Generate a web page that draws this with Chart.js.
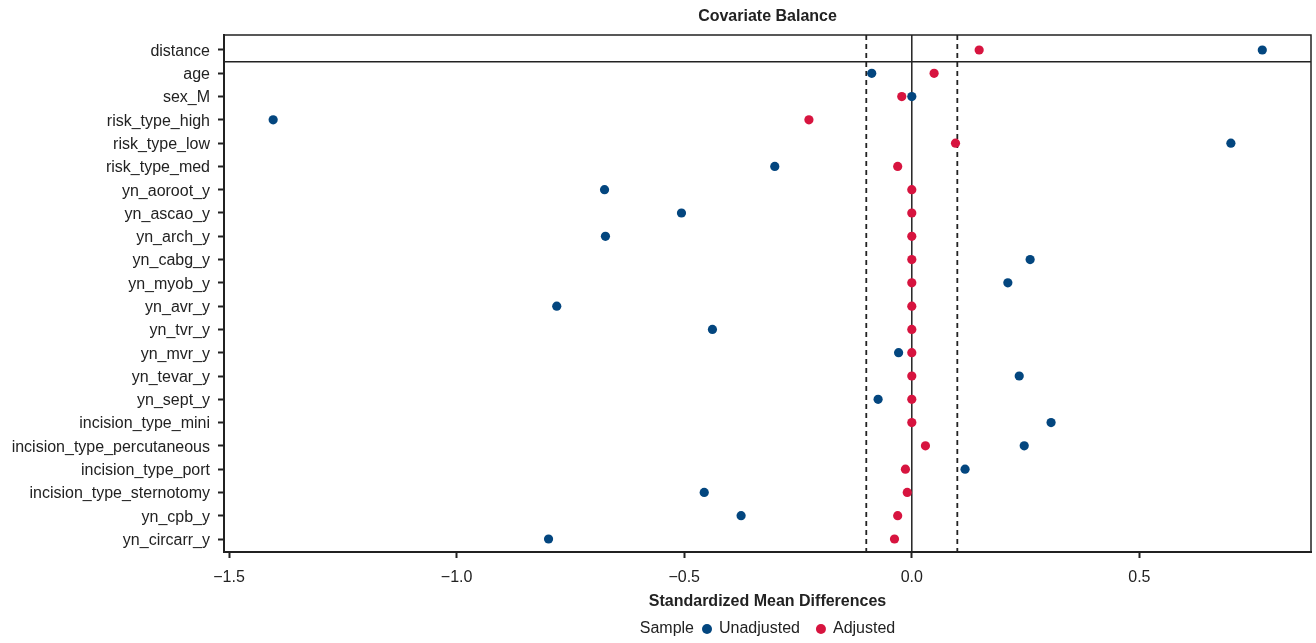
<!DOCTYPE html>
<html>
<head>
<meta charset="utf-8">
<script src="https://cdn.jsdelivr.net/npm/chart.js@4"></script>
<style>
  html, body { margin: 0; padding: 0; background: #fff; }
  #wrap { width: 1316px; height: 643px; }
</style>
</head>
<body>
<div id="wrap"><canvas id="balanceChart" width="1316" height="643"></canvas></div>
<script>
// covariates, top to bottom
const covariates = ['distance', 'age', 'sex_M', 'risk_type_high', 'risk_type_low', 'risk_type_med',
  'yn_aoroot_y', 'yn_ascao_y', 'yn_arch_y', 'yn_cabg_y', 'yn_myob_y', 'yn_avr_y', 'yn_tvr_y',
  'yn_mvr_y', 'yn_tevar_y', 'yn_sept_y', 'incision_type_mini', 'incision_type_percutaneous',
  'incision_type_port', 'incision_type_sternotomy', 'yn_cpb_y', 'yn_circarr_y'];

// standardized mean differences
const unadjusted = [0.770, -0.088, 0.000, -1.403, 0.701, -0.301, -0.675, -0.506, -0.673, 0.260, 0.211,
  -0.780, -0.438, -0.029, 0.236, -0.074, 0.306, 0.247, 0.117, -0.456, -0.375, -0.798];
const adjusted = [0.148, 0.049, -0.022, -0.226, 0.096, -0.031, 0, 0, 0, 0, 0,
  0, 0, 0, 0, 0, 0, 0.030, -0.014, -0.010, -0.031, -0.038];

const xTicks = [-1.5, -1.0, -0.5, 0.0, 0.5];
const threshold = 0.1;

const FONT = "'Liberation Sans', Arial, Helvetica, sans-serif";
const INK = '#222';
const BLUE = '#03467f';
const RED = '#d7143f';

// frame, reference lines, title and legend
const decorations = {
  id: 'decorations',
  beforeDatasetsDraw(chart) {
    const { ctx, chartArea: a, scales: { x, y } } = chart;
    ctx.save();
    ctx.strokeStyle = INK;

    // box around the panel
    ctx.lineWidth = 1.5;
    ctx.strokeRect(a.left, a.top, a.right - a.left, a.bottom - a.top);

    // separator under "distance"
    const ySep = y.getPixelForValue(0.5);
    ctx.beginPath();
    ctx.moveTo(a.left, ySep);
    ctx.lineTo(a.right, ySep);
    ctx.stroke();

    // zero line
    const x0 = x.getPixelForValue(0);
    ctx.beginPath();
    ctx.moveTo(x0, a.top);
    ctx.lineTo(x0, a.bottom);
    ctx.stroke();

    // thresholds
    ctx.setLineDash([5, 4]);
    ctx.lineWidth = 1.8;
    [-threshold, threshold].forEach(t => {
      const xp = x.getPixelForValue(t);
      ctx.beginPath();
      ctx.moveTo(xp, a.top);
      ctx.lineTo(xp, a.bottom);
      ctx.stroke();
    });
    ctx.restore();
  },
  afterDraw(chart) {
    const { ctx, chartArea: a } = chart;
    const cx = (a.left + a.right) / 2;
    ctx.save();
    ctx.fillStyle = INK;
    ctx.textBaseline = 'middle';

    // title
    ctx.font = 'bold 16px ' + FONT;
    ctx.textAlign = 'center';
    ctx.fillText('Covariate Balance', cx, 17);

    // legend: "Sample  ● Unadjusted  ● Adjusted"
    ctx.font = '16px ' + FONT;
    ctx.textAlign = 'left';
    const ly = 629;
    const items = chart.data.datasets.map(d => ({ label: d.label, color: d.backgroundColor }));
    const head = 'Sample';
    const gapHead = 8, r = 5, gapDot = 7, gapItem = 16;
    let total = ctx.measureText(head).width + gapHead;
    items.forEach((it, i) => {
      total += r * 2 + gapDot + ctx.measureText(it.label).width;
      if (i < items.length - 1) total += gapItem;
    });
    let lx = cx - total / 2;
    ctx.fillText(head, lx, ly);
    lx += ctx.measureText(head).width + gapHead;
    items.forEach(it => {
      ctx.fillStyle = it.color;
      ctx.beginPath();
      ctx.arc(lx + r, ly, r, 0, Math.PI * 2);
      ctx.fill();
      lx += r * 2 + gapDot;
      ctx.fillStyle = INK;
      ctx.fillText(it.label, lx, ly);
      lx += ctx.measureText(it.label).width + gapItem;
    });
    ctx.restore();
  }
};

const toPoints = vals => vals.map((v, i) => ({ x: v, y: i }));

new Chart(document.getElementById('balanceChart'), {
  type: 'scatter',
  data: {
    datasets: [
      {
        label: 'Unadjusted',
        data: toPoints(unadjusted),
        backgroundColor: BLUE,
        borderColor: BLUE,
        pointRadius: 4.6,
        pointBorderWidth: 0
      },
      {
        label: 'Adjusted',
        data: toPoints(adjusted),
        backgroundColor: RED,
        borderColor: RED,
        pointRadius: 4.6,
        pointBorderWidth: 0
      }
    ]
  },
  options: {
    responsive: false,
    animation: false,
    events: [],
    layout: { padding: { top: 35, right: 5, bottom: 31, left: 0 } },
    plugins: {
      legend: { display: false },
      title: { display: false },
      tooltip: { enabled: false }
    },
    scales: {
      x: {
        type: 'linear',
        min: -1.511,
        max: 0.877,
        afterBuildTicks: s => { s.ticks = xTicks.map(v => ({ value: v })); },
        afterFit: s => { s.height = 60; },
        ticks: {
          color: INK,
          font: { family: FONT, size: 16 },
          padding: 10,
          callback: v => v.toFixed(1).replace('-', '\u2212')
        },
        grid: { drawOnChartArea: false, drawTicks: true, tickLength: 6, tickColor: INK, tickWidth: 2 },
        border: { display: true, color: INK, width: 2 },
        title: {
          display: true,
          text: 'Standardized Mean Differences',
          color: INK,
          font: { family: FONT, size: 16, weight: 'bold' },
          padding: { top: 4, bottom: 1 }
        }
      },
      y: {
        type: 'linear',
        reverse: true,
        min: -0.644,
        max: 21.558,
        afterBuildTicks: s => { s.ticks = covariates.map((c, i) => ({ value: i })); },
        afterFit: s => { s.width = 224; },
        ticks: {
          color: INK,
          autoSkip: false,
          font: { family: FONT, size: 16 },
          padding: 8,
          labelOffset: 1.5,
          callback: v => covariates[v]
        },
        grid: { drawOnChartArea: false, drawTicks: true, tickLength: 6, tickColor: INK, tickWidth: 2 },
        border: { display: true, color: INK, width: 2 }
      }
    }
  },
  plugins: [decorations]
});
</script>
</body>
</html>
